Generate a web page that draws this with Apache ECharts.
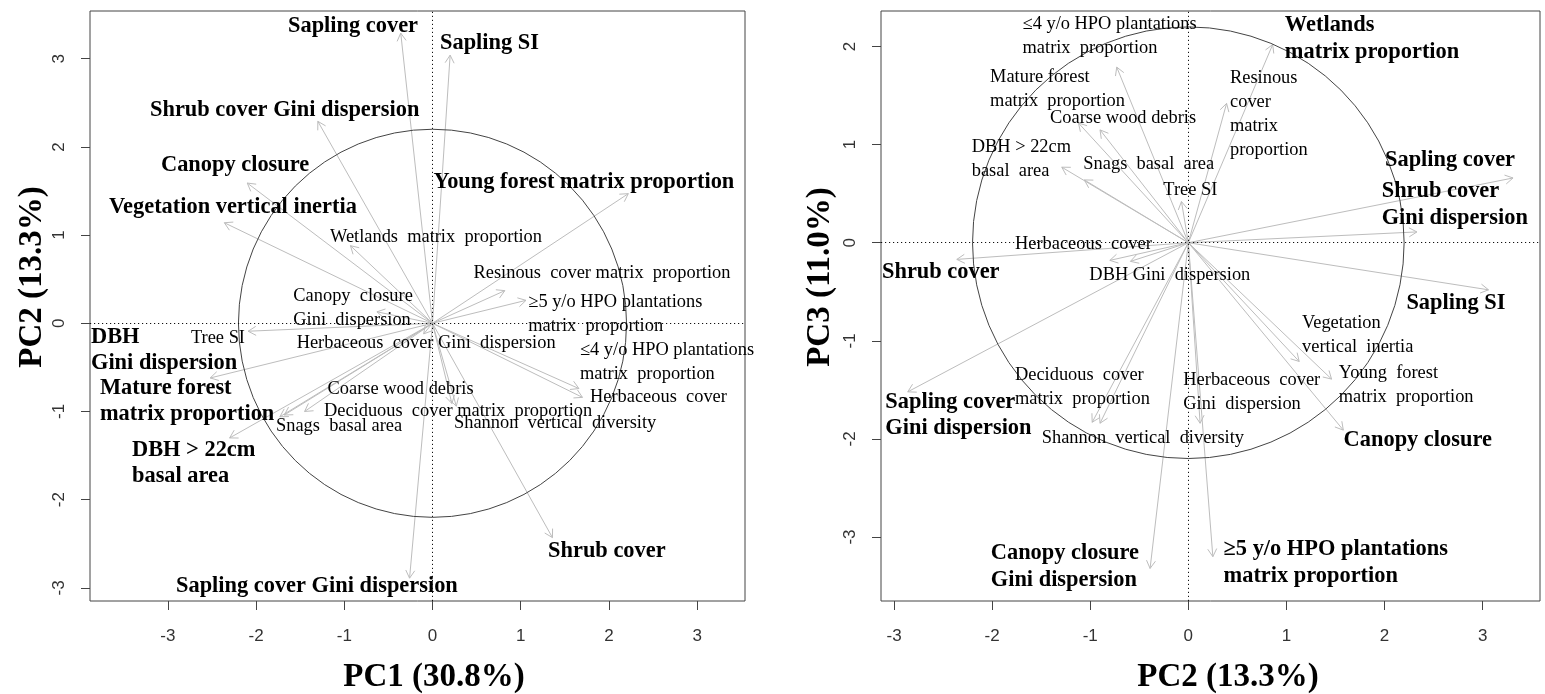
<!DOCTYPE html>
<html><head><meta charset="utf-8">
<script src="https://cdn.jsdelivr.net/npm/echarts@6/dist/echarts.min.js"></script>
<style>html,body{margin:0;padding:0;background:#fff}#c{width:1545px;height:694px}</style>
</head><body><div id="c"></div>
<script>
// ---- data ----
const variables = [
  'Sapling cover','Sapling SI','Shrub cover Gini dispersion','Canopy closure','Vegetation vertical inertia',
  'Young forest matrix proportion','Wetlands matrix proportion','Resinous cover matrix proportion',
  '≥5 y/o HPO plantations matrix proportion','Canopy closure Gini dispersion','Tree SI','DBH Gini dispersion',
  'Mature forest matrix proportion','DBH > 22cm basal area','Snags basal area','Coarse wood debris',
  'Herbaceous cover Gini dispersion','≤4 y/o HPO plantations matrix proportion','Herbaceous cover',
  'Deciduous cover matrix proportion','Shannon vertical diversity','Shrub cover','Sapling cover Gini dispersion'
];
// panel A: PC1 vs PC2 loadings (arrow tips)
const pc1A = [-0.36, 0.20,-1.30,-2.10,-2.36, 2.22,-0.93, 0.82, 1.06,-0.63,-2.09,-2.52,-1.73,-2.30,-1.68, 0.22,-0.10, 1.66, 1.70,-1.45, 0.27, 1.36,-0.26];
const pc2A = [ 3.29, 3.04, 2.29, 1.59, 1.14, 1.47, 0.88, 0.37, 0.26, 0.13,-0.09,-0.62,-1.06,-1.30,-1.04,-0.91,-0.12,-0.74,-0.84,-1.00,-0.94,-2.43,-2.89];
// panel B: PC2 vs PC3 loadings (arrow tips)
const pc2B = [ 3.31, 3.06, 2.33, 1.58, 1.13, 1.46, 0.86, 0.39, 0.25,-0.39,-0.07,-0.59,-1.12,-1.29,-1.06,-0.90, 0.12,-0.73,-0.80,-0.98,-0.90,-2.36,-2.86];
const pc3B = [ 0.66,-0.48, 0.11,-1.91,-1.21,-1.39, 2.02, 1.42,-3.20,-3.32, 0.42,-0.19, 1.22, 0.77, 0.64, 1.15,-1.84, 1.79,-0.18,-1.83,-1.84,-0.17,-1.52];

// label texts and anchors (left edge, first-line centre) in data units
const labelTextA = [
  'Sapling cover','Sapling SI','Shrub cover Gini dispersion','Canopy closure','Vegetation vertical inertia',
  'Young forest matrix proportion','Wetlands  matrix  proportion','Resinous  cover matrix  proportion',
  '≥5 y/o HPO plantations\nmatrix  proportion','Canopy  closure\nGini  dispersion','Tree SI','DBH\nGini dispersion',
  'Mature forest\nmatrix proportion','DBH > 22cm\nbasal area','Snags  basal area','Coarse wood debris',
  'Herbaceous  cover Gini  dispersion','≤4 y/o HPO plantations\nmatrix  proportion','Herbaceous  cover',
  'Deciduous  cover matrix  proportion','Shannon  vertical  diversity','Shrub cover','Sapling cover Gini dispersion'
];
const labelBoldA = [1,1,1,1,1,1,0,0,0,0,0,1,1,1,0,0,0,0,0,0,0,1,1];
const labelXA = [-1.638, 0.085,-3.203,-3.078,-3.668, 0.011,-1.162, 0.465, 1.086,-1.578,-2.738,-3.872,-3.770,-3.407,-1.774,-1.190,-1.540, 1.672, 1.786,-1.230, 0.244, 1.310,-2.908];
const labelYA = [ 3.371, 3.178, 2.418, 1.795, 1.319, 1.602, 0.973, 0.567, 0.245, 0.302,-0.167,-0.155,-0.734,-1.437,-1.161,-0.748,-0.227,-0.303,-0.839,-0.991,-1.134,-2.590,-2.978];

const labelTextB = [
  'Sapling cover','Sapling SI','Shrub cover\nGini dispersion','Canopy closure','Vegetation\nvertical  inertia',
  'Young  forest\nmatrix  proportion','Wetlands\nmatrix proportion','Resinous\ncover\nmatrix\nproportion',
  '≥5 y/o HPO plantations\nmatrix proportion','Canopy closure\nGini dispersion','Tree SI','DBH Gini  dispersion',
  'Mature forest\nmatrix  proportion','DBH > 22cm\nbasal  area','Snags  basal  area','Coarse wood debris',
  'Herbaceous  cover\nGini  dispersion','≤4 y/o HPO plantations\nmatrix  proportion','Herbaceous  cover',
  'Deciduous  cover\nmatrix  proportion','Shannon  vertical  diversity','Shrub cover','Sapling cover\nGini dispersion'
];
const labelBoldB = [1,1,1,1,0,0,1,0,1,1,0,0,0,0,0,0,0,0,0,0,0,1,1];
const labelXB = [ 2.005, 2.223, 1.971, 1.583, 1.159, 1.533, 0.984, 0.425, 0.359,-2.014,-0.255,-1.009,-2.021,-2.208,-1.070,-1.410,-0.051,-1.690,-1.767,-1.767,-1.494,-3.123,-3.089];
const labelYB = [ 0.836,-0.618, 0.520,-2.011,-0.815,-1.325, 2.219, 1.676,-3.125,-3.166, 0.537,-0.329, 1.686, 0.972, 0.799, 1.268,-1.400, 2.229,-0.013,-1.349,-1.994,-0.296,-1.621];

const circleRadius = 2.2;
const ticksX = [-3,-2,-1,0,1,2,3];
const ticksYA = [-3,-2,-1,0,1,2,3];
const ticksYB = [-3,-2,-1,0,1,2];
const axisTitles = ['PC1 (30.8%)','PC2 (13.3%)','PC2 (13.3%)','PC3 (11.0%)'];

// ---- chart ----
const SERIF = 'Liberation Serif, Times New Roman, serif';
const ARROW = '#bdbdbd';

function xAxis(gi, min, max, ticks){
  return {type:'value', gridIndex:gi, min, max, position:'bottom',
    axisLine:{show:false, onZero:false}, splitLine:{show:false},
    axisTick:{show:true, inside:false, length:9, lineStyle:{color:'#444'}, customValues:ticks},
    axisLabel:{customValues:ticks, fontFamily:'Liberation Sans, Arial', fontSize:17, color:'#333', margin:27}};
}
function yAxis(gi, min, max, ticks){
  return {type:'value', gridIndex:gi, min, max, position:'left',
    axisLine:{show:false, onZero:false}, splitLine:{show:false},
    axisTick:{show:true, inside:false, length:9, lineStyle:{color:'#444'}, customValues:ticks},
    axisLabel:{customValues:ticks, fontFamily:'Liberation Sans, Arial', fontSize:17, color:'#333', margin:22, rotate:90}};
}
function arrowSeries(gi, xs, ys){
  return {type:'custom', xAxisIndex:gi, yAxisIndex:gi, silent:true, z:2,
    data: xs.map((x,i)=>[x, ys[i]]),
    renderItem(params, api){
      const o = api.coord([0,0]);
      const p = api.coord([api.value(0), api.value(1)]);
      const ang = Math.atan2(p[1]-o[1], p[0]-o[0]);
      const L = 9, a = Math.PI/6;
      const h1 = [p[0]-L*Math.cos(ang-a), p[1]-L*Math.sin(ang-a)];
      const h2 = [p[0]-L*Math.cos(ang+a), p[1]-L*Math.sin(ang+a)];
      return {type:'group', children:[
        {type:'line', shape:{x1:o[0], y1:o[1], x2:p[0], y2:p[1]}, style:{stroke:ARROW, lineWidth:1}},
        {type:'polyline', shape:{points:[h1, p, h2]}, style:{stroke:ARROW, lineWidth:1, fill:null}}
      ]};
    }};
}
function circleSeries(gi){
  return {type:'custom', xAxisIndex:gi, yAxisIndex:gi, silent:true, z:3,
    data:[[0,0,circleRadius]],
    renderItem(params, api){
      const c = api.coord([api.value(0), api.value(1)]);
      const r = api.size([api.value(2), 0])[0];
      return {type:'circle', shape:{cx:c[0], cy:c[1], r}, style:{fill:null, stroke:'#444', lineWidth:1}};
    },
    markLine:{silent:true, symbol:'none', label:{show:false},
      lineStyle:{type:[1.2,2.8], color:'#111', width:1},
      data:[{xAxis:0},{yAxis:0}]}
  };
}
function labelSeries(gi, texts, xs, ys, bold){
  return {type:'custom', xAxisIndex:gi, yAxisIndex:gi, silent:true, z:4,
    data: xs.map((x,i)=>[x, ys[i], i]),
    renderItem(params, api){
      const i = api.value(2);
      const p = api.coord([api.value(0), api.value(1)]);
      const b = bold[i] === 1;
      const lh = b ? 26.7 : 24;
      return {type:'text', x:p[0], y:p[1]-lh/2, style:{text:texts[i], fill:'#000',
        fontFamily:SERIF, fontSize: b ? 22.4 : 18.4, fontWeight: b ? 'bold' : 'normal',
        lineHeight: lh, align:'left', verticalAlign:'top'}};
    }};
}
function titleText(x, y, text, rot){
  return {type:'text', x, y, rotation: rot || 0, silent:true,
    style:{text, fill:'#000', fontFamily:SERIF, fontSize:33, fontWeight:'bold', align:'center', verticalAlign:'middle'}};
}

const chart = echarts.init(document.getElementById('c'), null, {renderer:'canvas'});
chart.setOption({
  animation:false,
  backgroundColor:'#fff',
  grid:[
    {left:90, top:11, width:655, height:590, show:true, borderColor:'#444', borderWidth:1},
    {left:881, top:11, width:659, height:590, show:true, borderColor:'#444', borderWidth:1}
  ],
  xAxis:[xAxis(0, -3.883, 3.543, ticksX), xAxis(1, -3.133, 3.585, ticksX)],
  yAxis:[yAxis(0, -3.149, 3.541, ticksYA), yAxis(1, -3.652, 2.362, ticksYB)],
  series:[
    circleSeries(0), arrowSeries(0, pc1A, pc2A), labelSeries(0, labelTextA, labelXA, labelYA, labelBoldA),
    circleSeries(1), arrowSeries(1, pc2B, pc3B), labelSeries(1, labelTextB, labelXB, labelYB, labelBoldB)
  ],
  graphic:[
    titleText(434, 677, axisTitles[0]),
    titleText(32, 277, axisTitles[1], Math.PI/2),
    titleText(1228, 677, axisTitles[2]),
    titleText(820, 277, axisTitles[3], Math.PI/2)
  ]
});
</script></body></html>
